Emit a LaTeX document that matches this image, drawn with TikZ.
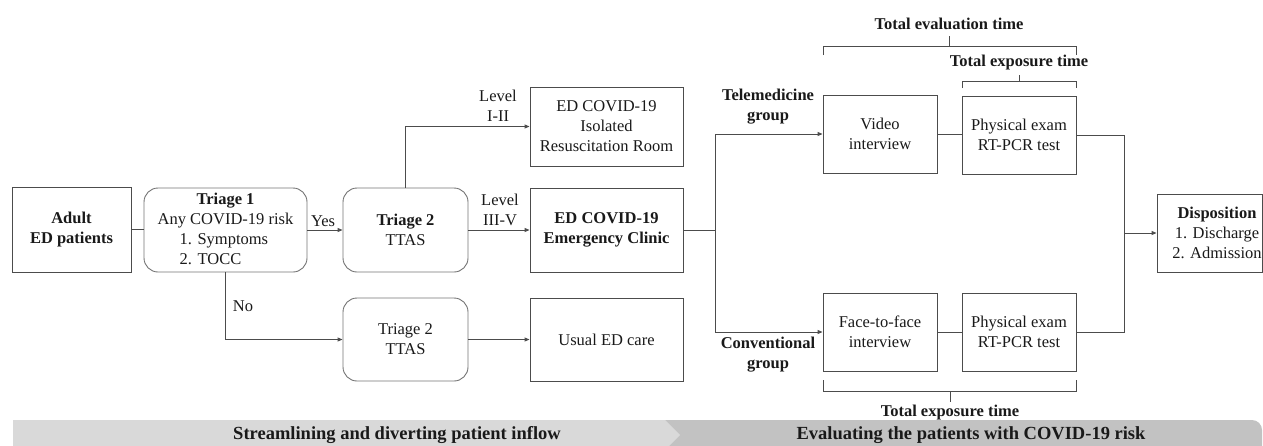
\documentclass[tikz,border=0pt]{standalone}
\usepackage{fontspec}
\setmainfont{Liberation Serif}
\usetikzlibrary{arrows.meta}
\begin{document}
\begin{tikzpicture}[x=1pt,y=-1pt,
  every node/.style={font=\fontsize{16.5}{20}\selectfont, inner sep=0pt, align=center, text=black!90},
  box/.style={draw=black!70, line width=0.9pt, rectangle},
  rbox/.style={draw=black!55, line width=0.9pt, rounded corners=14pt},
  conn/.style={draw=black!70, line width=0.9pt},
  arr/.style={conn, -{Triangle[length=5pt,width=4pt]}},
  bandtext/.style={font=\fontsize{18.5}{22}\selectfont\bfseries},
]
\clip (0,0) rectangle (1263,445);
% bands
\fill[black!15] (13,420) -- (665,420) -- (680,435) -- (665,450) -- (13,450) -- cycle;
\fill[black!24] (665,420) -- (1252,420) arc[start angle=270,end angle=360,radius=10] -- (1262,450) -- (665,450) -- (680,435) -- cycle;
\node[bandtext] (band1) at (397,435) {Streamlining and diverting patient inflow};
\node[bandtext] (band2) at (971,435) {Evaluating the patients with COVID-19 risk};

% boxes
\node[box, minimum width=119pt, minimum height=85pt] (adult) at (71.5,229.5) {\textbf{Adult}\\\textbf{ED patients}};
\node[rbox, minimum width=163pt, minimum height=84pt] (t1) at (225.5,230)
 {\begin{tabular}{@{}l@{}}\multicolumn{1}{@{}c@{}}{\textbf{Triage 1}}\\ \multicolumn{1}{@{}c@{}}{Any COVID-19 risk}\\ \hspace*{22pt}1. Symptoms\\ \hspace*{22pt}2. TOCC\end{tabular}};
\node[rbox, minimum width=125pt, minimum height=84pt] (t2a) at (405.5,230) {\textbf{Triage 2}\\TTAS};
\node[rbox, minimum width=125pt, minimum height=83pt] (t2b) at (405.5,339.5) {Triage 2\\TTAS};
\node[box, minimum width=153pt, minimum height=79pt] (iso) at (606.5,126.5) {ED COVID-19\\Isolated\\Resuscitation Room};
\node[box, minimum width=153pt, minimum height=84pt] (emc) at (606.5,230) {\textbf{ED COVID-19}\\\textbf{Emergency Clinic}};
\node[box, minimum width=153pt, minimum height=83pt] (usual) at (606.5,339.5) {Usual ED care};
\node[box, minimum width=114pt, minimum height=78pt] (video) at (880,134) {Video\\interview};
\node[box, minimum width=114pt, minimum height=78pt] (face) at (880,332) {Face-to-face\\interview};
\node[box, minimum width=114pt, minimum height=78pt] (phys1) at (1019,135) {Physical exam\\RT-PCR test};
\node[box, minimum width=114pt, minimum height=78pt] (phys2) at (1019,332) {Physical exam\\RT-PCR test};
\node[box, minimum width=105pt, minimum height=78pt] (disp) at (1209.5,233) {};
\node (disptext) at (1217,233) {\textbf{Disposition}\\1. Discharge\\2. Admission};

% connectors
\draw[conn] (adult.east) -- (adult.east -| t1.west);
\draw[arr] (t1.east) -- (t2a.west);
\node (yes) at (323,221) {Yes};
\draw[arr] (t1.south) -- (t1.south |- t2b.west) -- (t2b.west);
\node (no) at (243,306) {No};
\draw[arr] (t2a.north) -- (t2a.north |- iso.west) -- (iso.west);
\node (lv1) at (498,106) {Level\\I-II};
\draw[arr] (t2a.east) -- (emc.west);
\node (lv2) at (500,210) {Level\\III-V};
\draw[arr] (t2b.east) -- (usual.west);

\coordinate (split) at (715,230);
\draw[conn] (emc.east) -- (split);
\draw[arr] (split) -- (split |- video.west) -- (video.west);
\draw[arr] (split) -- (split |- face.west) -- (face.west);
\node (tele) at (768,107) {\textbf{Telemedicine}\\\textbf{group}};
\node (conv) at (768,355) {\textbf{Conventional}\\\textbf{group}};

\draw[conn] (video.east) -- (video.east -| phys1.west);
\draw[conn] (face.east) -- (phys2.west);
\coordinate (merge) at (1124,233);
\draw[conn] (phys1.east) -- (phys1.east -| merge) -- (phys2.east -| merge) -- (phys2.east);
\draw[arr] (merge) -- (disp.west);

% brackets
\draw[conn] (823,55) -- (823,46) -- (1076,46) -- (1076,55) (949,46) -- (949,36);
\node (evalt) at (949,24) {\textbf{Total evaluation time}};
\draw[conn] (962,88) -- (962,81) -- (1076,81) -- (1076,88) (1019,81) -- (1019,75);
\node (expt1) at (1019,63) {\textbf{Total exposure time}};
\draw[conn] (823,380) -- (823,391) -- (1076,391) -- (1076,380) (950,391) -- (950,402);
\node (expt2) at (950,413) {\textbf{Total exposure time}};
\end{tikzpicture}
\end{document}
